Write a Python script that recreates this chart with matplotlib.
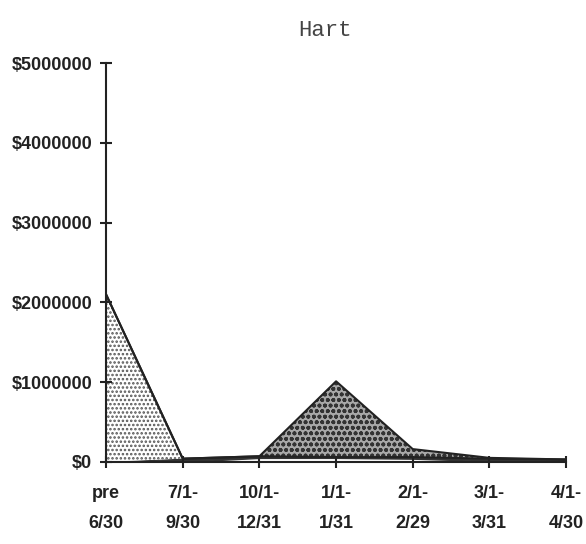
import numpy as np
import matplotlib
matplotlib.use("Agg")
import matplotlib.pyplot as plt

# categories (two-line labels)
periods = ["pre\n6/30", "7/1-\n9/30", "10/1-\n12/31", "1/1-\n1/31",
           "2/1-\n2/29", "3/1-\n3/31", "4/1-\n4/30"]

# stacked series, bottom to top (dollars)
dashed_part = [0, 0, 50000, 50000, 40000, 10000, 0]
dark_base   = [0, 40000, 20000, 10000, 20000, 30000, 30000]
light_dots  = [2100000, 0, 0, 0, 0, 0, 0]
dense_dots  = [0, 0, 0, 950000, 100000, 10000, 0]

y_ticks = [0, 1000000, 2000000, 3000000, 4000000, 5000000]
y_labels = ["$0", "$1000000", "$2000000", "$3000000", "$4000000", "$5000000"]

plt.rcParams['hatch.linewidth'] = 1.2
lab_font = ['Liberation Sans', 'DejaVu Sans']

fig = plt.figure(figsize=(5.86, 5.44), dpi=100)
ax = fig.add_axes([0.181, 0.151, 0.785, 0.733])

x = np.arange(len(periods))
s1 = np.array(dashed_part)
s2 = s1 + np.array(dark_base)
s3 = s2 + np.array(light_dots)
s4 = s3 + np.array(dense_dots)

ax.fill_between(x, 0, s1, facecolor='white', edgecolor='#222222', hatch='--', linewidth=0)
ax.fill_between(x, s1, s2, facecolor='#333333', edgecolor='#333333', linewidth=1)
ax.fill_between(x, s2, s3, facecolor='white', edgecolor='#555555', hatch='....', linewidth=0)
ax.fill_between(x, s3, s4, facecolor='#a8a8a8', edgecolor='#333333', hatch='ooo', linewidth=0)
ax.plot(x, s3, color='#222222', lw=1.5)
ax.plot(x, s4, color='#222222', lw=1.5)

ax.set_xlim(0, len(periods) - 1)
ax.set_ylim(0, 5000000)
ax.set_xticks(x)
ax.set_xticklabels(periods, family=lab_font, fontsize=13, fontweight='bold',
                   linespacing=2.0, color='#222222')
ax.set_yticks(y_ticks)
ax.set_yticklabels(y_labels, family=lab_font, fontsize=13, fontweight='bold', color='#222222')
ax.tick_params(axis='both', direction='inout', length=8, width=1.5, color='#222222')
ax.tick_params(axis='x', pad=13)
ax.tick_params(axis='y', pad=6)

for side in ['top', 'right']:
    ax.spines[side].set_visible(False)
for side in ['left', 'bottom']:
    ax.spines[side].set_linewidth(1.5)
    ax.spines[side].set_color('#222222')

fig.text(0.555, 0.933, "Hart", family='Liberation Mono', fontsize=16, ha='center', color='#444444')

fig.savefig("out.png", dpi=100)
